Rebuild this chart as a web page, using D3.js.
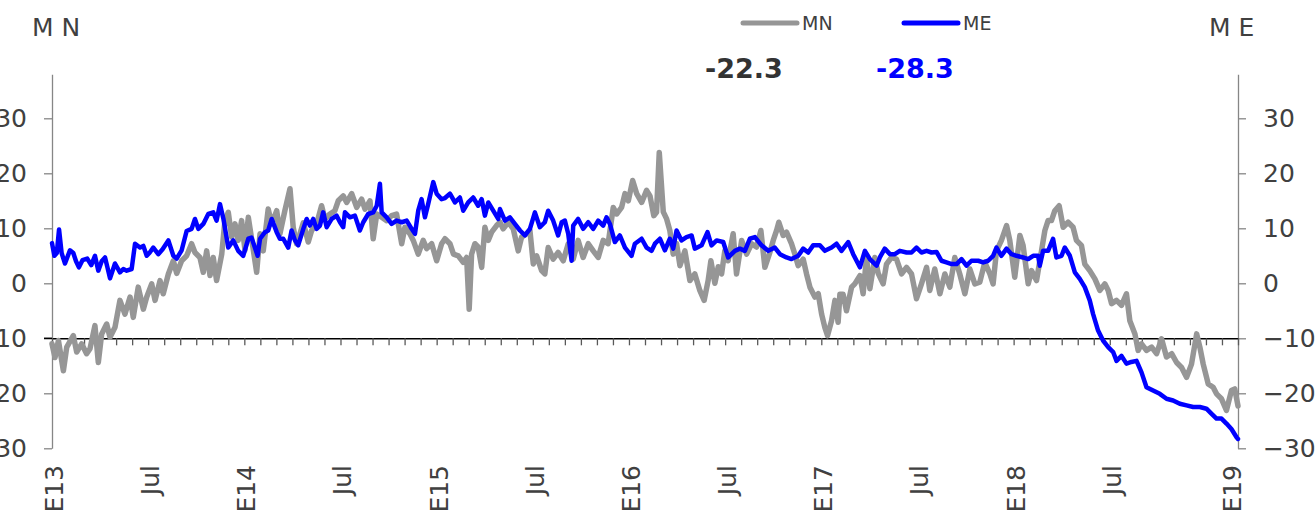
<!DOCTYPE html>
<html><head><meta charset="utf-8">
<script src="https://cdn.jsdelivr.net/npm/d3@7"></script>
<style>
body{margin:0;background:#fff}
svg{display:block}
text{font-family:"DejaVu Sans",Verdana,sans-serif}
</style>
</head><body>
<svg id="chart" width="1315" height="524"></svg>
<script>
// ---------------- data ----------------
const seriesNames = ["MN", "ME"];
const seriesColors = ["#969696", "#0000ff"];
const axisTitles = ["M N", "M E"];
const yTicks = [30, 20, 10, 0, -10, -20, -30];
const xLabels = ["E13","Jul","E14","Jul","E15","Jul","E16","Jul","E17","Jul","E18","Jul","E19"];
const xLabelMonths = [0, 6, 12, 18, 24, 30, 36, 42, 48, 54, 60, 66, 73.5];
const xMinorTicks = d3.range(0, 75, 1);

// [months since start of 2013, value]
const mnData = [[0,-11.0],[0.19,-13.5],[0.40,-10.4],[0.71,-15.9],[0.92,-11.6],[1.33,-9.5],[1.54,-12.5],[1.85,-11.0],[2.16,-12.8],[2.37,-11.9],[2.68,-7.7],[2.89,-14.4],[3.10,-9.2],[3.41,-7.4],[3.62,-9.8],[3.93,-8.0],[4.24,-3.1],[4.55,-5.6],[4.87,-2.5],[5.07,-6.2],[5.38,-0.7],[5.70,-4.7],[5.91,-2.5],[6.22,-0.1],[6.43,-3.1],[6.74,0.5],[6.94,-1.9],[7.26,1.7],[7.57,4.1],[7.78,1.8],[8.09,4.1],[8.40,5.0],[8.71,7.2],[8.92,5.6],[9.23,4.7],[9.44,2.0],[9.65,5.9],[9.86,1.4],[10.06,4.7],[10.27,0.5],[10.59,5.3],[10.79,11.4],[11.00,12.9],[11.21,8.4],[11.42,10.8],[11.62,7.8],[11.83,11.4],[12.04,6.0],[12.25,12.0],[12.46,8.0],[12.77,2.0],[12.98,9.0],[13.18,5.9],[13.49,13.5],[13.71,10.8],[14.02,13.2],[14.22,9.0],[14.53,13.2],[14.85,17.2],[15.05,10.2],[15.26,7.2],[15.47,9.0],[15.68,11.0],[15.99,7.5],[16.20,9.6],[16.51,10.8],[16.82,14.1],[17.03,11.7],[17.34,12.6],[17.65,13.2],[17.86,15.0],[18.17,15.9],[18.39,14.7],[18.70,16.3],[19.01,13.8],[19.32,15.3],[19.53,13.5],[19.84,15.0],[20.04,8.1],[20.26,12.6],[20.57,12.0],[20.88,11.4],[21.19,12.3],[21.50,12.6],[21.82,7.2],[22.02,10.2],[22.33,9.0],[22.54,7.8],[22.85,5.3],[23.16,7.8],[23.38,6.3],[23.69,7.2],[24.00,4.1],[24.31,7.2],[24.52,8.1],[24.83,7.2],[25.05,5.3],[25.35,5.0],[25.66,3.8],[25.87,4.7],[26.03,-4.7],[26.18,5.3],[26.39,7.2],[26.59,6.6],[26.81,2.9],[27.01,10.2],[27.22,7.8],[27.43,9.3],[27.74,10.5],[27.95,11.1],[28.15,9.9],[28.47,11.1],[28.78,9.9],[29.09,5.9],[29.30,8.4],[29.61,9.0],[29.82,9.6],[30.03,3.5],[30.24,5.0],[30.55,2.3],[30.75,1.7],[30.96,6.5],[31.27,4.4],[31.58,5.6],[31.90,4.1],[32.21,7.2],[32.52,4.4],[32.83,7.8],[33.14,4.7],[33.46,7.2],[33.77,5.9],[34.08,4.7],[34.39,7.8],[34.70,7.2],[35.02,13.8],[35.23,12.6],[35.54,13.8],[35.75,16.3],[35.96,15.0],[36.23,18.7],[36.48,16.3],[36.79,14.7],[37.10,16.9],[37.31,15.9],[37.55,12.3],[37.72,12.9],[37.89,23.8],[38.14,13.0],[38.35,11.7],[38.55,9.6],[38.76,5.3],[38.97,7.2],[39.18,3.2],[39.49,5.9],[39.80,0.5],[40.11,1.7],[40.42,-1.3],[40.69,-3.1],[40.94,0.5],[41.11,4.1],[41.36,0.0],[41.57,3.0],[41.78,1.7],[41.98,5.9],[42.19,4.1],[42.50,9.0],[42.71,1.7],[43.03,7.8],[43.34,5.3],[43.65,7.2],[43.96,6.6],[44.23,9.6],[44.48,2.9],[44.79,5.6],[45.00,7.8],[45.21,9.6],[45.35,11.1],[45.62,8.7],[45.83,9.3],[46.14,7.2],[46.35,5.3],[46.56,3.2],[46.87,4.4],[47.08,1.7],[47.29,-0.7],[47.60,-2.5],[47.81,-1.9],[48.02,-5.6],[48.22,-8.0],[48.39,-9.5],[48.64,-6.8],[48.85,-3.1],[49.05,-7.1],[49.16,-2.0],[49.36,-2.0],[49.57,-5.0],[49.89,-0.7],[50.09,-0.1],[50.41,1.4],[50.61,-1.9],[50.82,4.7],[51.03,-1.0],[51.34,4.7],[51.55,1.8],[51.86,-0.1],[52.07,3.5],[52.38,4.7],[52.69,4.4],[53.01,1.7],[53.32,2.9],[53.63,1.7],[53.94,-2.8],[54.25,-0.1],[54.57,2.9],[54.77,-1.3],[55.08,2.6],[55.40,-1.9],[55.71,1.7],[56.02,-0.7],[56.33,4.7],[56.64,1.7],[56.96,-1.9],[57.27,2.6],[57.58,-0.1],[57.89,0.2],[58.20,3.8],[58.52,1.7],[58.72,-0.1],[58.93,5.9],[59.24,7.8],[59.56,10.5],[59.76,7.8],[60.07,1.1],[60.39,8.7],[60.59,6.9],[60.91,-0.1],[61.12,2.3],[61.43,0.5],[61.74,5.9],[61.95,9.6],[62.15,11.4],[62.36,11.4],[62.57,13.2],[62.84,14.1],[63.09,10.2],[63.40,11.1],[63.71,10.2],[63.92,7.8],[64.23,6.9],[64.44,3.5],[64.75,2.3],[65.07,0.8],[65.38,-1.3],[65.69,-0.1],[65.90,-1.3],[66.11,-3.7],[66.42,-3.1],[66.73,-4.0],[67.04,-1.9],[67.25,-6.8],[67.57,-9.2],[67.77,-12.2],[67.98,-11.0],[68.29,-12.2],[68.61,-11.6],[68.92,-12.8],[69.23,-10.1],[69.54,-13.4],[69.86,-12.8],[70.17,-14.4],[70.48,-15.3],[70.79,-17.1],[71.10,-14.7],[71.42,-9.2],[71.62,-11.6],[71.83,-14.7],[72.14,-18.3],[72.45,-18.9],[72.66,-20.1],[72.97,-21.0],[73.28,-23.1],[73.59,-19.5],[73.80,-19.2],[74.00,-22.3]];

const meData = [[0,7.3],[0.15,5.0],[0.30,5.5],[0.44,9.8],[0.60,5.5],[0.81,3.6],[1.12,6.0],[1.33,5.5],[1.50,4.0],[1.68,2.9],[1.90,4.2],[2.20,4.5],[2.45,3.3],[2.68,5.0],[2.89,2.3],[3.10,4.0],[3.31,4.7],[3.45,3.0],[3.62,0.9],[3.93,3.6],[4.24,2.0],[4.45,2.6],[4.66,2.3],[4.97,2.6],[5.18,7.2],[5.49,6.5],[5.70,6.8],[5.91,5.0],[6.10,5.6],[6.32,6.5],[6.63,5.3],[6.90,6.2],[7.26,7.8],[7.57,5.0],[7.78,4.5],[8.09,6.0],[8.40,9.5],[8.71,9.9],[8.92,11.7],[9.13,9.9],[9.44,10.8],[9.75,12.6],[10.06,12.9],[10.27,11.4],[10.48,14.4],[10.69,11.8],[11.00,6.5],[11.31,7.8],[11.62,5.9],[11.93,5.0],[12.25,8.1],[12.45,8.3],[12.66,6.5],[12.83,5.0],[12.98,8.1],[13.29,9.3],[13.49,9.6],[13.71,11.7],[14.02,9.3],[14.22,8.1],[14.43,8.1],[14.74,6.5],[14.95,9.6],[15.16,7.8],[15.36,6.9],[15.68,9.9],[15.89,11.7],[16.09,10.5],[16.30,11.7],[16.51,9.9],[16.72,10.5],[16.92,12.9],[17.14,10.2],[17.45,11.7],[17.76,12.3],[17.97,11.1],[18.17,10.2],[18.28,12.9],[18.59,12.0],[18.90,12.3],[19.21,9.6],[19.42,11.1],[19.73,12.6],[20.04,12.9],[20.26,14.1],[20.46,18.1],[20.57,12.9],[20.88,12.0],[21.19,10.8],[21.50,11.4],[21.82,11.1],[22.13,11.4],[22.44,9.9],[22.65,9.0],[22.85,13.2],[23.06,15.3],[23.27,12.0],[23.47,14.4],[23.79,18.4],[24.00,16.3],[24.31,15.3],[24.52,15.5],[24.83,16.3],[25.14,14.7],[25.45,15.6],[25.66,13.2],[25.97,14.7],[26.28,15.6],[26.59,14.1],[26.81,15.3],[27.01,12.3],[27.22,14.7],[27.53,13.2],[27.84,11.7],[27.95,13.5],[28.26,11.4],[28.57,12.0],[28.88,10.8],[29.20,9.6],[29.51,8.7],[29.82,9.9],[30.13,12.9],[30.44,10.2],[30.75,11.1],[30.96,13.2],[31.27,11.4],[31.58,8.7],[31.80,11.1],[32.00,11.4],[32.21,9.0],[32.42,4.1],[32.52,10.5],[32.83,11.7],[33.14,9.9],[33.46,11.1],[33.77,9.9],[34.08,11.4],[34.39,10.5],[34.60,12.0],[34.81,10.8],[35.12,7.5],[35.43,8.7],[35.75,6.5],[36.16,5.0],[36.37,7.2],[36.79,8.1],[37.10,6.5],[37.41,5.9],[37.62,7.2],[37.93,8.1],[38.24,6.0],[38.55,8.1],[38.76,6.3],[38.97,9.6],[39.28,7.8],[39.59,8.4],[39.91,8.7],[40.11,6.3],[40.53,6.9],[40.90,9.3],[41.15,6.9],[41.47,7.8],[41.88,7.5],[42.19,4.7],[42.61,5.9],[42.92,6.3],[43.23,5.9],[43.54,8.1],[43.86,8.4],[44.27,6.9],[44.69,5.9],[45.10,6.5],[45.42,5.3],[45.83,4.7],[46.14,4.4],[46.56,5.0],[46.87,6.3],[47.18,5.6],[47.49,6.9],[47.91,6.9],[48.22,5.9],[48.64,6.5],[48.95,7.2],[49.26,5.9],[49.68,7.5],[49.99,5.3],[50.41,2.9],[50.72,5.9],[51.03,4.4],[51.45,3.2],[51.65,4.7],[51.96,6.3],[52.28,5.3],[52.59,5.3],[52.90,5.9],[53.32,5.6],[53.63,5.6],[53.94,6.5],[54.25,5.6],[54.57,5.9],[54.88,5.6],[55.19,5.7],[55.50,4.1],[55.81,3.8],[56.13,3.5],[56.44,3.5],[56.75,4.4],[57.06,3.2],[57.37,4.1],[57.79,4.1],[58.10,3.8],[58.41,4.1],[58.72,5.0],[58.93,6.5],[59.24,5.0],[59.56,6.3],[59.87,5.3],[60.18,5.0],[60.59,4.7],[60.91,4.4],[61.22,5.0],[61.53,5.0],[61.63,3.2],[61.84,5.9],[62.15,5.9],[62.46,8.1],[62.67,4.7],[62.99,5.0],[63.19,6.5],[63.51,5.0],[63.82,2.0],[64.13,0.8],[64.44,-0.7],[64.75,-3.1],[64.96,-5.6],[65.27,-8.6],[65.58,-10.4],[65.90,-11.6],[66.21,-12.5],[66.42,-14.1],[66.73,-13.2],[67.04,-14.6],[67.35,-14.3],[67.67,-14.1],[67.98,-16.2],[68.29,-18.9],[68.70,-19.5],[69.12,-20.1],[69.54,-21.0],[69.95,-21.3],[70.37,-21.9],[70.79,-22.2],[71.20,-22.5],[71.62,-22.5],[72.03,-22.8],[72.34,-23.7],[72.66,-24.6],[72.97,-24.6],[73.28,-25.5],[73.59,-26.5],[73.91,-28.0],[74.00,-28.3]];

// ---------------- drawing ----------------
const svg = d3.select("#chart");
const textColor = "#404040";
const axisColor = "#868686";

const x = d3.scaleLinear().domain([0, 74]).range([52, 1238]);
const y = d3.scaleLinear().domain([-30, 38]).range([448.3, 74.3]);

// left axis
const gl = svg.append("g").attr("transform", `translate(${x(0)},0)`)
  .call(d3.axisLeft(y).tickValues(yTicks).tickSize(8).tickSizeOuter(0).tickPadding(17));
// right axis
const gr = svg.append("g").attr("transform", `translate(${x(74)},0)`)
  .call(d3.axisRight(y).tickValues(yTicks).tickSize(8).tickSizeOuter(0).tickPadding(17));
[gl, gr].forEach(g => {
  g.select(".domain").attr("stroke", axisColor).attr("stroke-width", 1.3);
  g.selectAll(".tick line").attr("stroke", axisColor).attr("stroke-width", 1.3);
  g.selectAll(".tick text").attr("fill", textColor).style("font-size", "25px")
    .style("font-family", '"DejaVu Sans",Verdana,sans-serif');
});

// horizontal category axis at y = -10
const gx = svg.append("g").attr("transform", `translate(0,${y(-10)})`)
  .call(d3.axisBottom(x).tickValues(xMinorTicks).tickSize(7).tickSizeOuter(0).tickFormat(""));
gx.select(".domain").attr("stroke", "#000").attr("stroke-width", 1.5);
gx.selectAll(".tick line").attr("stroke", "#595959").attr("stroke-width", 1.3);
// extend the baseline to the left tick
svg.append("line").attr("x1", x(0) - 8).attr("x2", x(0)).attr("y1", y(-10)).attr("y2", y(-10))
  .attr("stroke", "#000").attr("stroke-width", 1.5);

// x labels (rotated)
svg.append("g").selectAll("text").data(xLabels).join("text")
  .attr("transform", (d, i) => `translate(${x(xLabelMonths[i]) + 2},465) rotate(-90)`)
  .attr("text-anchor", "end").attr("dy", "0.36em")
  .attr("fill", textColor).style("font-size", "25px")
  .text(d => d);

// lines
const line = d3.line().x(d => x(d[0])).y(d => y(d[1]));
svg.append("path").datum(mnData).attr("d", line).attr("fill", "none")
  .attr("stroke", seriesColors[0]).attr("stroke-width", 5.5)
  .attr("stroke-linejoin", "round").attr("stroke-linecap", "round");
svg.append("path").datum(meData).attr("d", line).attr("fill", "none")
  .attr("stroke", seriesColors[1]).attr("stroke-width", 4.5)
  .attr("stroke-linejoin", "round").attr("stroke-linecap", "round");

// axis titles
svg.append("text").attr("x", 32).attr("y", 36).attr("fill", textColor)
  .style("font-size", "25px").text(axisTitles[0]);
svg.append("text").attr("x", 1209).attr("y", 36).attr("fill", textColor)
  .style("font-size", "25px").text(axisTitles[1]);

// legend
const legendX = [743, 904];
seriesNames.forEach((name, i) => {
  svg.append("line").attr("x1", legendX[i]).attr("x2", legendX[i] + 54)
    .attr("y1", 23).attr("y2", 23).attr("stroke", seriesColors[i])
    .attr("stroke-width", 5).attr("stroke-linecap", "round");
  svg.append("text").attr("x", legendX[i] + 59).attr("y", 30).attr("fill", textColor)
    .style("font-size", "19px").text(name);
});

// last values
const lastVals = [mnData[mnData.length - 1][1], meData[meData.length - 1][1]];
const valX = [705, 876];
const valColors = ["#333333", seriesColors[1]];
lastVals.forEach((v, i) => {
  svg.append("text").attr("x", valX[i]).attr("y", 78).attr("fill", valColors[i])
    .style("font-size", "27px").style("font-weight", "bold")
    .text(d3.format(".1f")(v).replace("−", "-"));
});
</script>
</body></html>
